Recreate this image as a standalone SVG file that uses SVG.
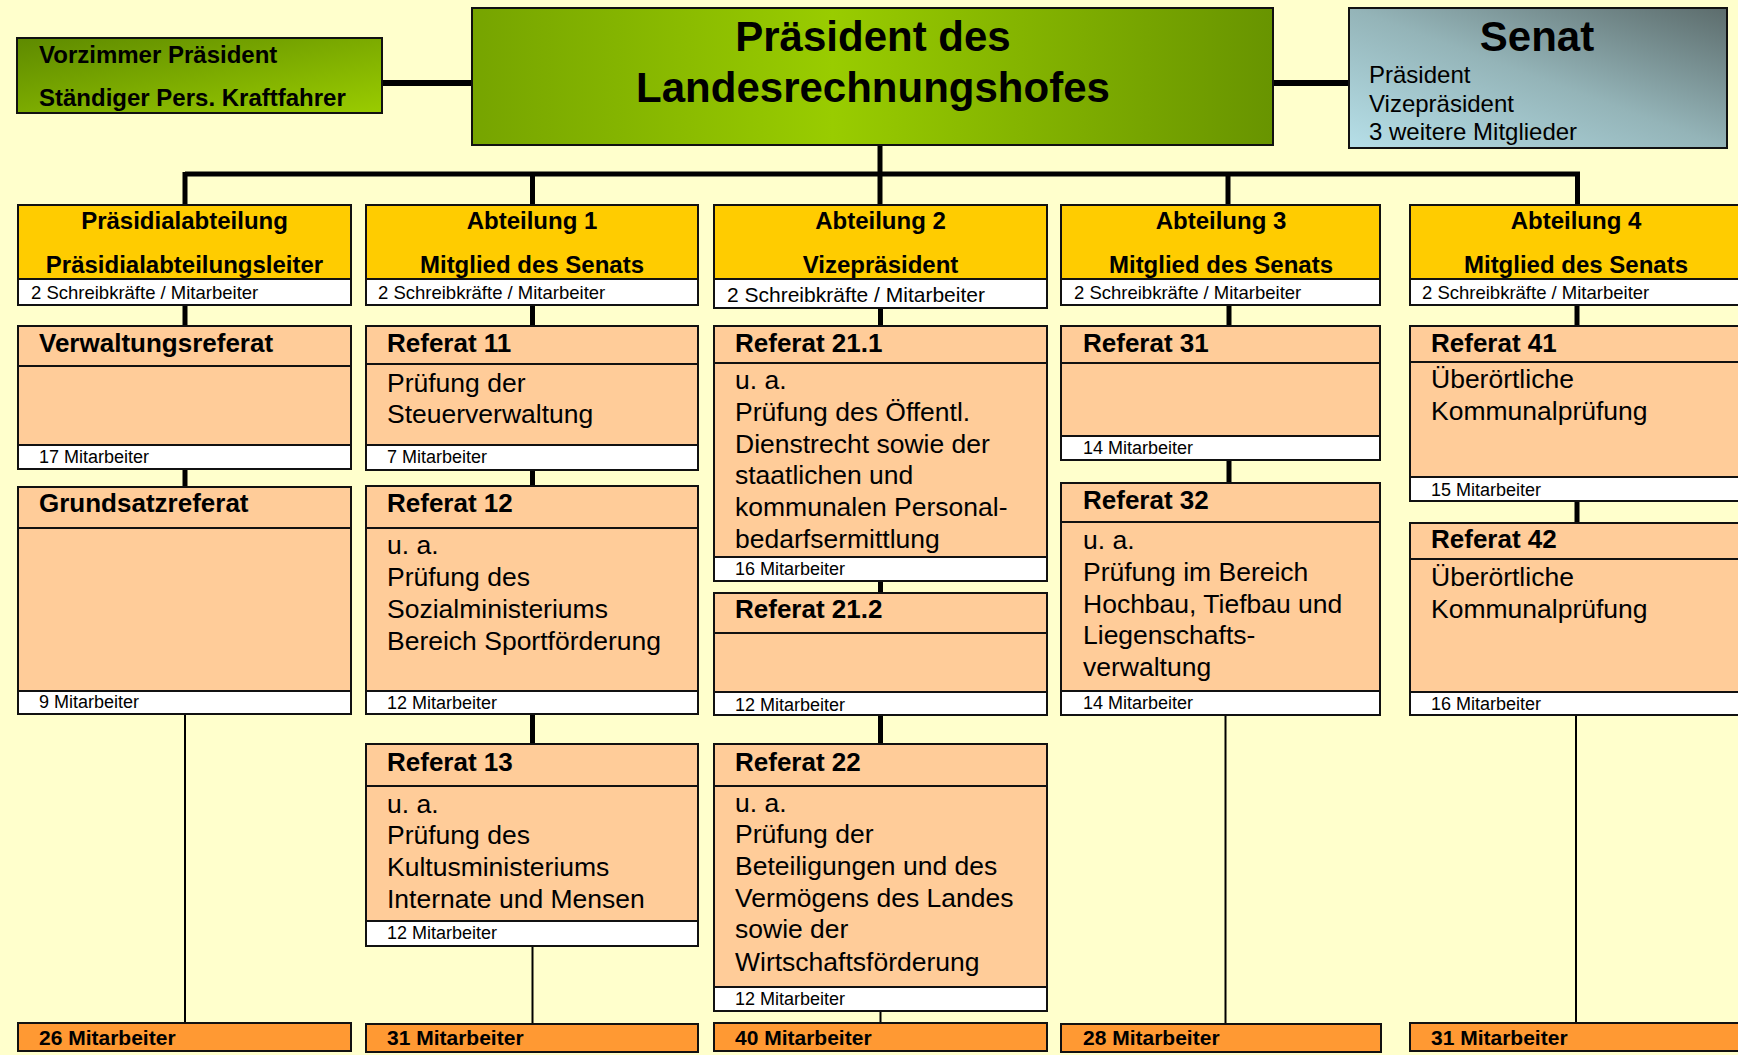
<svg xmlns="http://www.w3.org/2000/svg" width="1738" height="1055" viewBox="0 0 1738 1055">
<defs>
<linearGradient id="gPres" x1="0" y1="0" x2="1" y2="0">
<stop offset="0" stop-color="#76a400"/>
<stop offset="0.45" stop-color="#99cc00"/>
<stop offset="1" stop-color="#689400"/>
</linearGradient>
<linearGradient id="gVor" x1="0" y1="0" x2="1" y2="1">
<stop offset="0" stop-color="#5e8a00"/>
<stop offset="1" stop-color="#9acc00"/>
</linearGradient>
<linearGradient id="gSen" x1="0" y1="1" x2="1" y2="0">
<stop offset="0" stop-color="#b6dfe8"/>
<stop offset="0.5" stop-color="#94b4b8"/>
<stop offset="1" stop-color="#5c6c6c"/>
</linearGradient>
<style>
.box{stroke:#111;stroke-width:2}
.abt{fill:#ffcc00}
.ref{fill:#ffcc99}
.wht{fill:#ffffff}
.sum{fill:#ff9933}
text{font-family:"Liberation Sans",Arial,sans-serif;fill:#000}
.hd{font-size:24px;font-weight:bold}
.hc{font-size:24px;font-weight:bold;text-anchor:middle}
.big{font-size:42px;font-weight:bold;text-anchor:middle}
.sen{font-size:24px}
.tt{font-size:26px;font-weight:bold}
.bd{font-size:26.5px}
.sm{font-size:18px}
.sk{font-size:18.5px}
.tot{font-size:21px;font-weight:bold}
.thick{stroke:#000;stroke-width:5;fill:none}
.thick6{stroke:#000;stroke-width:6;fill:none}
.thin{stroke:#000;stroke-width:2;fill:none}
</style>
</defs>
<rect x="0" y="0" width="1738" height="1055" fill="#ffffcc"/>

<g id="connectors">
<line class="thick6" x1="382" y1="83" x2="472" y2="83"/>
<line class="thick6" x1="1273" y1="83" x2="1349" y2="83"/>
<line class="thick" x1="880" y1="145" x2="880" y2="176"/>
<line class="thick" x1="185" y1="174" x2="1580" y2="174"/>
<line class="thick" x1="185" y1="172" x2="185" y2="205"/>
<line class="thick" x1="532.5" y1="174" x2="532.5" y2="205"/>
<line class="thick" x1="880" y1="174" x2="880" y2="205"/>
<line class="thick" x1="1228" y1="174" x2="1228" y2="205"/>
<line class="thick" x1="1577.5" y1="172" x2="1577.5" y2="205"/>
<line class="thick" x1="185" y1="305" x2="185" y2="326"/>
<line class="thick" x1="185" y1="469" x2="185" y2="487"/>
<line class="thin" x1="185" y1="714" x2="185" y2="1023"/>
<line class="thick" x1="532.5" y1="305" x2="532.5" y2="326"/>
<line class="thick" x1="532.5" y1="470" x2="532.5" y2="486"/>
<line class="thick" x1="532.5" y1="714" x2="532.5" y2="744"/>
<line class="thin" x1="532.5" y1="946" x2="532.5" y2="1024"/>
<line class="thick" x1="880.5" y1="308" x2="880.5" y2="326"/>
<line class="thick" x1="880.5" y1="581" x2="880.5" y2="593"/>
<line class="thick" x1="880.5" y1="715" x2="880.5" y2="744"/>
<line class="thin" x1="880.5" y1="1011" x2="880.5" y2="1023"/>
<line class="thick" x1="1229" y1="305" x2="1229" y2="326"/>
<line class="thick" x1="1229" y1="460" x2="1229" y2="483"/>
<line class="thin" x1="1225.5" y1="715" x2="1225.5" y2="1024"/>
<line class="thick" x1="1577" y1="305" x2="1577" y2="326"/>
<line class="thick" x1="1577" y1="501" x2="1577" y2="523"/>
<line class="thin" x1="1576" y1="715" x2="1576" y2="1023"/>
</g>

<g id="vorzimmer">
<rect class="box" x="17" y="38" width="365" height="75" fill="url(#gVor)"/>
<text class="hd" x="39" y="63">Vorzimmer Präsident</text>
<text class="hd" x="39" y="106">Ständiger Pers. Kraftfahrer</text>
</g>

<g id="praesident">
<rect class="box" x="472" y="8" width="801" height="137" fill="url(#gPres)"/>
<text class="big" x="873" y="51">Präsident des</text>
<text class="big" x="873" y="102">Landesrechnungshofes</text>
</g>

<g id="senat">
<rect class="box" x="1349" y="8" width="378" height="140" fill="url(#gSen)"/>
<text class="big" x="1537" y="51">Senat</text>
<text class="sen" x="1369" y="83">Präsident</text>
<text class="sen" x="1369" y="112">Vizepräsident</text>
<text class="sen" x="1369" y="140">3 weitere Mitglieder</text>
</g>

<g id="praesidialabteilung">
<rect class="box abt" x="18" y="205" width="333" height="74"/>
<rect class="box wht" x="18" y="279" width="333" height="26"/>
<text class="hc" x="184.5" y="229">Präsidialabteilung</text>
<text class="hc" x="184.5" y="273">Präsidialabteilungsleiter</text>
<text class="sk" x="31" y="299">2 Schreibkräfte / Mitarbeiter</text>
</g>

<g id="abteilung1">
<rect class="box abt" x="366" y="205" width="332" height="74"/>
<rect class="box wht" x="366" y="279" width="332" height="26"/>
<text class="hc" x="532" y="229">Abteilung 1</text>
<text class="hc" x="532" y="273">Mitglied des Senats</text>
<text class="sk" x="378" y="299">2 Schreibkräfte / Mitarbeiter</text>
</g>

<g id="abteilung2">
<rect class="box abt" x="714" y="205" width="333" height="74"/>
<rect class="box wht" x="714" y="279" width="333" height="29"/>
<text class="hc" x="880.5" y="229">Abteilung 2</text>
<text class="hc" x="880.5" y="273">Vizepräsident</text>
<text x="727" y="302" style="font-size:21px">2 Schreibkräfte / Mitarbeiter</text>
</g>

<g id="abteilung3">
<rect class="box abt" x="1061" y="205" width="319" height="74"/>
<rect class="box wht" x="1061" y="279" width="319" height="26"/>
<text class="hc" x="1221" y="229">Abteilung 3</text>
<text class="hc" x="1221" y="273">Mitglied des Senats</text>
<text class="sk" x="1074" y="299">2 Schreibkräfte / Mitarbeiter</text>
</g>

<g id="abteilung4">
<rect class="box abt" x="1410" y="205" width="340" height="74"/>
<rect class="box wht" x="1410" y="279" width="340" height="26"/>
<text class="hc" x="1576" y="229">Abteilung 4</text>
<text class="hc" x="1576" y="273">Mitglied des Senats</text>
<text class="sk" x="1422" y="299">2 Schreibkräfte / Mitarbeiter</text>
</g>

<g id="verwaltungsreferat">
<rect class="box ref" x="18" y="326" width="333" height="40"/>
<rect class="box ref" x="18" y="366" width="333" height="79"/>
<rect class="box wht" x="18" y="445" width="333" height="24"/>
<text class="tt" x="39" y="352">Verwaltungsreferat</text>
<text class="sm" x="39" y="463">17 Mitarbeiter</text>
</g>

<g id="grundsatzreferat">
<rect class="box ref" x="18" y="487" width="333" height="41"/>
<rect class="box ref" x="18" y="528" width="333" height="163"/>
<rect class="box wht" x="18" y="691" width="333" height="23"/>
<text class="tt" x="39" y="512">Grundsatzreferat</text>
<text class="sm" x="39" y="708">9 Mitarbeiter</text>
</g>

<g id="referat11">
<rect class="box ref" x="366" y="326" width="332" height="38"/>
<rect class="box ref" x="366" y="364" width="332" height="81"/>
<rect class="box wht" x="366" y="445" width="332" height="25"/>
<text class="tt" x="387" y="352">Referat 11</text>
<text class="bd" x="387" y="392">Prüfung der</text>
<text class="bd" x="387" y="423">Steuerverwaltung</text>
<text class="sm" x="387" y="463">7 Mitarbeiter</text>
</g>

<g id="referat12">
<rect class="box ref" x="366" y="486" width="332" height="42"/>
<rect class="box ref" x="366" y="528" width="332" height="163"/>
<rect class="box wht" x="366" y="691" width="332" height="23"/>
<text class="tt" x="387" y="512">Referat 12</text>
<text class="bd" x="387" y="554">u. a.</text>
<text class="bd" x="387" y="586">Prüfung des</text>
<text class="bd" x="387" y="618">Sozialministeriums</text>
<text class="bd" x="387" y="650">Bereich Sportförderung</text>
<text class="sm" x="387" y="709">12 Mitarbeiter</text>
</g>

<g id="referat13">
<rect class="box ref" x="366" y="744" width="332" height="42"/>
<rect class="box ref" x="366" y="786" width="332" height="135"/>
<rect class="box wht" x="366" y="921" width="332" height="25"/>
<text class="tt" x="387" y="771">Referat 13</text>
<text class="bd" x="387" y="813">u. a.</text>
<text class="bd" x="387" y="844">Prüfung des</text>
<text class="bd" x="387" y="876">Kultusministeriums</text>
<text class="bd" x="387" y="908">Internate und Mensen</text>
<text class="sm" x="387" y="939">12 Mitarbeiter</text>
</g>

<g id="referat21-1">
<rect class="box ref" x="714" y="326" width="333" height="37"/>
<rect class="box ref" x="714" y="363" width="333" height="194"/>
<rect class="box wht" x="714" y="557" width="333" height="24"/>
<text class="tt" x="735" y="352">Referat 21.1</text>
<text class="bd" x="735" y="389">u. a.</text>
<text class="bd" x="735" y="421">Prüfung des Öffentl.</text>
<text class="bd" x="735" y="453">Dienstrecht sowie der</text>
<text class="bd" x="735" y="484">staatlichen und</text>
<text class="bd" x="735" y="516">kommunalen Personal-</text>
<text class="bd" x="735" y="548">bedarfsermittlung</text>
<text class="sm" x="735" y="575">16 Mitarbeiter</text>
</g>

<g id="referat21-2">
<rect class="box ref" x="714" y="593" width="333" height="40"/>
<rect class="box ref" x="714" y="633" width="333" height="59"/>
<rect class="box wht" x="714" y="692" width="333" height="23"/>
<text class="tt" x="735" y="618">Referat 21.2</text>
<text class="sm" x="735" y="711">12 Mitarbeiter</text>
</g>

<g id="referat22">
<rect class="box ref" x="714" y="744" width="333" height="42"/>
<rect class="box ref" x="714" y="786" width="333" height="201"/>
<rect class="box wht" x="714" y="987" width="333" height="24"/>
<text class="tt" x="735" y="771">Referat 22</text>
<text class="bd" x="735" y="812">u. a.</text>
<text class="bd" x="735" y="843">Prüfung der</text>
<text class="bd" x="735" y="875">Beteiligungen und des</text>
<text class="bd" x="735" y="907">Vermögens des Landes</text>
<text class="bd" x="735" y="938">sowie der</text>
<text class="bd" x="735" y="971">Wirtschaftsförderung</text>
<text class="sm" x="735" y="1005">12 Mitarbeiter</text>
</g>

<g id="referat31">
<rect class="box ref" x="1061" y="326" width="319" height="37"/>
<rect class="box ref" x="1061" y="363" width="319" height="73"/>
<rect class="box wht" x="1061" y="436" width="319" height="24"/>
<text class="tt" x="1083" y="352">Referat 31</text>
<text class="sm" x="1083" y="454">14 Mitarbeiter</text>
</g>

<g id="referat32">
<rect class="box ref" x="1061" y="483" width="319" height="39"/>
<rect class="box ref" x="1061" y="522" width="319" height="169"/>
<rect class="box wht" x="1061" y="691" width="319" height="24"/>
<text class="tt" x="1083" y="509">Referat 32</text>
<text class="bd" x="1083" y="549">u. a.</text>
<text class="bd" x="1083" y="581">Prüfung im Bereich</text>
<text class="bd" x="1083" y="613">Hochbau, Tiefbau und</text>
<text class="bd" x="1083" y="644">Liegenschafts-</text>
<text class="bd" x="1083" y="676">verwaltung</text>
<text class="sm" x="1083" y="709">14 Mitarbeiter</text>
</g>

<g id="referat41">
<rect class="box ref" x="1410" y="326" width="340" height="36"/>
<rect class="box ref" x="1410" y="362" width="340" height="115"/>
<rect class="box wht" x="1410" y="477" width="340" height="24"/>
<text class="tt" x="1431" y="352">Referat 41</text>
<text class="bd" x="1431" y="388">Überörtliche</text>
<text class="bd" x="1431" y="420">Kommunalprüfung</text>
<text class="sm" x="1431" y="496">15 Mitarbeiter</text>
</g>

<g id="referat42">
<rect class="box ref" x="1410" y="523" width="340" height="36"/>
<rect class="box ref" x="1410" y="559" width="340" height="133"/>
<rect class="box wht" x="1410" y="692" width="340" height="23"/>
<text class="tt" x="1431" y="548">Referat 42</text>
<text class="bd" x="1431" y="586">Überörtliche</text>
<text class="bd" x="1431" y="618">Kommunalprüfung</text>
<text class="sm" x="1431" y="710">16 Mitarbeiter</text>
</g>

<g id="summe-praesidial">
<rect class="box sum" x="18" y="1023" width="333" height="28"/>
<text class="tot" x="39" y="1045">26 Mitarbeiter</text>
</g>
<g id="summe-abt1">
<rect class="box sum" x="366" y="1024" width="332" height="28"/>
<text class="tot" x="387" y="1045">31 Mitarbeiter</text>
</g>
<g id="summe-abt2">
<rect class="box sum" x="714" y="1023" width="333" height="28"/>
<text class="tot" x="735" y="1045">40 Mitarbeiter</text>
</g>
<g id="summe-abt3">
<rect class="box sum" x="1061" y="1024" width="320" height="28"/>
<text class="tot" x="1083" y="1045">28 Mitarbeiter</text>
</g>
<g id="summe-abt4">
<rect class="box sum" x="1410" y="1023" width="340" height="28"/>
<text class="tot" x="1431" y="1045">31 Mitarbeiter</text>
</g>
</svg>
